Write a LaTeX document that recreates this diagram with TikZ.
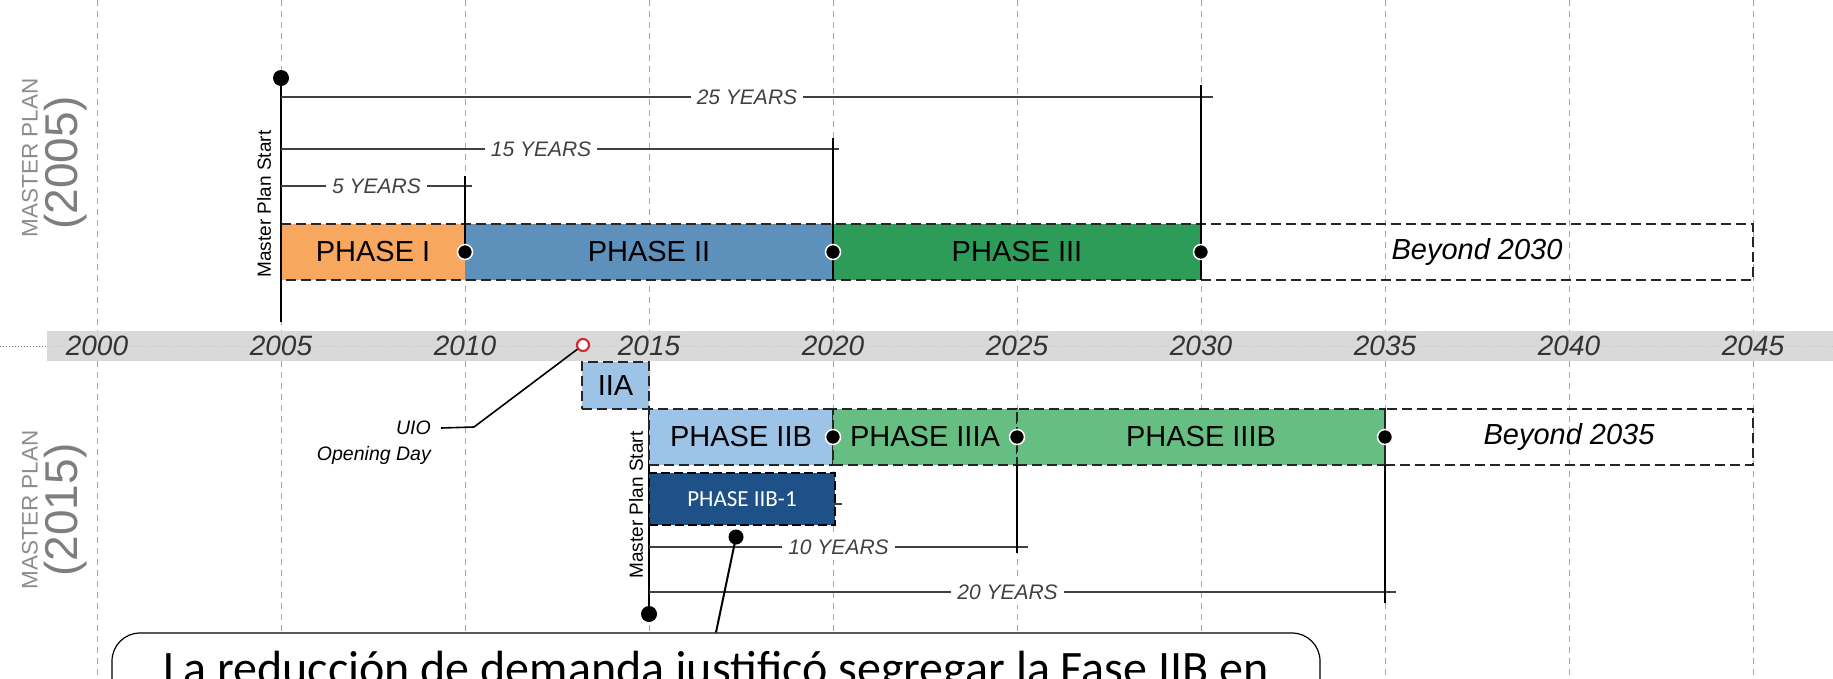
\documentclass[tikz,border=0pt]{standalone}
\usepackage{fontspec}
\setmainfont{Liberation Sans}
\newfontfamily\calibri{Carlito}
\usepackage{tikz}
\usetikzlibrary{positioning, calc}
\definecolor{phaseorange}{RGB}{247,168,94}
\definecolor{phasesteel}{RGB}{93,144,187}
\definecolor{phasegreen}{RGB}{46,156,89}
\definecolor{phaselight}{RGB}{157,195,230}
\definecolor{phasemint}{RGB}{103,190,131}
\definecolor{phasenavy}{RGB}{30,81,136}
\definecolor{bandgray}{RGB}{217,217,217}
\definecolor{plangray}{RGB}{140,140,140}
\definecolor{uiored}{RGB}{220,40,50}

\begin{document}
\begin{tikzpicture}[
    x=1pt, y=-1pt,
    grid/.style={gray!70, line width=0.9pt, dash pattern=on 6pt off 5pt},
    yearlbl/.style={font=\fontsize{28}{30}\selectfont\itshape, text=black!80, inner sep=0pt},
    bar/.style={fill=#1, minimum height=56pt, inner sep=0pt, outer sep=0pt, font=\fontsize{29}{31}\selectfont},
    boxed/.style={draw=black!85, line width=1.5pt, dash pattern=on 10pt off 5pt},
    milestone/.style={black, line width=2pt},
    span/.style={black!75, line width=1.2pt},
    spanlbl/.style={fill=white, font=\fontsize{21}{23}\selectfont\itshape, inner sep=6pt},
    dot/.style={circle, fill=black, draw=white, line width=1.5pt, minimum size=15pt, inner sep=0pt},
    startdot/.style={circle, fill=black, minimum size=16pt, inner sep=0pt},
    startlbl/.style={rotate=90, font=\fontsize{19}{21}\selectfont},
    planlbl/.style={rotate=90, text=plangray, font=\fontsize{22.5}{24}\selectfont},
    planyear/.style={rotate=90, text=plangray!90!black, font=\fontsize{46}{48}\selectfont},
    note/.style={font=\fontsize{19.5}{21}\selectfont\itshape, inner sep=0pt},
    callout/.style={draw=black, line width=1.2pt, rounded corners=28pt, fill=white, minimum width=1208pt, inner sep=0pt, text height=51pt, text depth=60pt, font=\calibri\fontsize{48}{56}\selectfont},
]
    \useasboundingbox (0,0) rectangle (1833,678);
    \clip (0,0) rectangle (1833,678);

    % Year grid
    \foreach \y in {2000,2005,...,2045} {
        \draw[grid] ({97+36.8*(\y-2000)},0) -- ({97+36.8*(\y-2000)},331);
        \draw[grid] ({97+36.8*(\y-2000)},361) -- ({97+36.8*(\y-2000)},678);
    }

    % Time axis
    \fill[bandgray] (47,331) rectangle (1833,361);
    \draw[gray, dotted, line width=1pt] (0,346) -- (47,346);
    \draw[gray!45, dotted, line width=1pt] (47,346) -- (1833,346);
    \foreach \y in {2000,2005,...,2045}
        \node[yearlbl] (yl\y) at ({97+36.8*(\y-2000)},346) {\y};

    % Plan titles
    \node[planlbl] (mp05) at (30,158) {MASTER PLAN};
    \node[planyear] (yr05) at (66,163) {(2005)};
    \node[planlbl] (mp15) at (30,510) {MASTER PLAN};
    \node[planyear] (yr15) at (66,510) {(2015)};

    % Master plan 2005
    \node[bar=phaseorange, minimum width=184pt, anchor=west] (ph1) at (281,252) {PHASE I};
    \node[bar=phasesteel, minimum width=368pt, right=0pt of ph1] (ph2) {PHASE II};
    \node[bar=phasegreen, minimum width=368pt, right=0pt of ph2] (ph3) {PHASE III};
    \node[bar=none, minimum width=552pt, right=0pt of ph3, font=\fontsize{29}{31}\selectfont\itshape] (bey30) {Beyond 2030};
    \draw[boxed] (ph1.north west) -- (bey30.north east) -- (bey30.south east) -- (ph1.south west);

    \node[startdot] (start05) at (281,78) {};
    \draw[milestone] (start05.center) -- (281,322);
    \node[startlbl] (mps05) at (264,204) {Master Plan Start};

    \coordinate (e25) at (1213,97);
    \coordinate (e15) at (839,149);
    \coordinate (e05) at (472,186);
    \draw[span] (start05 |- e25) -- node[spanlbl] {25 YEARS} (e25);
    \draw[span] (start05 |- e15) -- node[spanlbl, pos=0.466] {15 YEARS} (e15);
    \draw[span] (start05 |- e05) -- node[spanlbl] {5 YEARS} (e05);

    \coordinate (t10) at (465,176);
    \coordinate (t20) at (833,138);
    \coordinate (t30) at (1201,85);
    \draw[milestone] (t10) -- (ph1.east);
    \draw[milestone] (t20) -- (ph2.south east);
    \draw[milestone] (t30) -- (ph3.south east);

    \node[dot] (d10) at (ph1.east) {};
    \node[dot] (d20) at (ph2.east) {};
    \node[dot] (d30) at (ph3.east) {};

    % Master plan 2015
    \node[startdot] (start15) at (649,614) {};
    \draw[milestone] (649,409) -- (start15.center);
    \node[startlbl] (mps15) at (636,505) {Master Plan Start};

    \node[bar=phaselight, boxed, minimum width=67pt, minimum height=47pt, anchor=south east] (ph2a) at (649,409) {IIA};
    \node[bar=phaselight, boxed, minimum width=184pt, anchor=west] (ph2b) at (649,437) {PHASE IIB};
    \node[bar=phasemint, boxed, minimum width=184pt, right=0pt of ph2b] (ph3a) {PHASE IIIA};
    \node[bar=phasemint, boxed, minimum width=368pt, right=0pt of ph3a] (ph3b) {PHASE IIIB};
    \node[bar=none, boxed, minimum width=368pt, right=0pt of ph3b, font=\fontsize{29}{31}\selectfont\itshape] (bey35) {Beyond 2035};

    \draw[span] (649,504) -- (842,504);
    \node[bar=phasenavy, minimum width=186pt, minimum height=52pt, anchor=north west, draw=black, line width=2.6pt, dash pattern=on 9pt off 4pt, text=white, font=\calibri\fontsize{23}{25}\selectfont] (ph2b1) at (649,473) {PHASE IIB-1};

    \coordinate (e10) at (1028,547);
    \coordinate (e20) at (1396,592);
    \draw[span] (start15 |- e10) -- node[spanlbl] {10 YEARS} (e10);
    \draw[span] (start15 |- e20) -- node[spanlbl, pos=0.48] {20 YEARS} (e20);

    \coordinate (t25) at (1017,553);
    \coordinate (t35) at (1385,603);
    \draw[milestone] (ph3a.south east) -- (t25);
    \draw[milestone] (ph3b.south east) -- (t35);

    \node[dot] (d2020) at (ph2b.east) {};
    \node[dot] (d2025) at (ph3a.east) {};
    \node[dot] (d2035) at (ph3b.east) {};

    % Opening day
    \node[circle, draw=uiored, line width=2.2pt, fill=white, minimum size=12pt, inner sep=0pt] (uioday) at (583,345) {};
    \node[note, anchor=east] (uio) at (431,428) {UIO};
    \node[note, below left=11pt and 0pt of uio.south east] (openday) {Opening Day};
    \draw[line width=1.6pt] (uioday) -- (474,427) -- ([xshift=10pt]uio.east);

    % Callout
    \node[startdot, minimum size=15pt] (pin) at (736,537) {};
    \node[callout, anchor=base] (callout) at (716,684) {La reducción de demanda justificó segregar la Fase IIB en};
    \draw[line width=2pt] (pin.center) -- (callout.north);

\end{tikzpicture}
\end{document}
